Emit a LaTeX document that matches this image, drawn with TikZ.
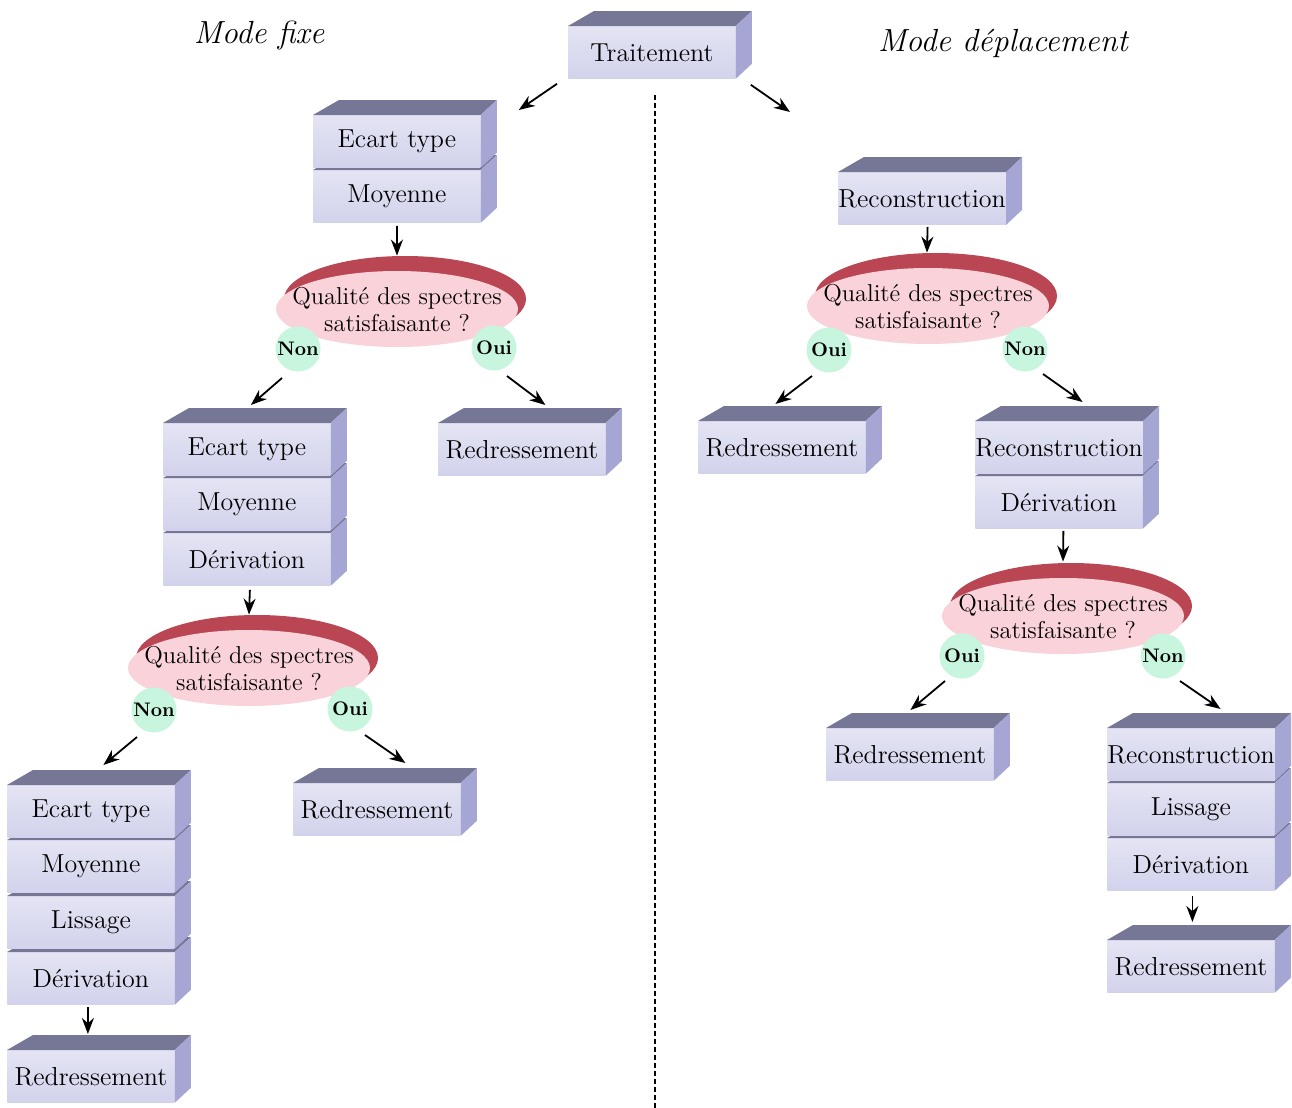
\documentclass[tikz,border=0pt]{standalone}
\usepackage{fontspec}
\usetikzlibrary{shapes.geometric,arrows.meta,calc}
\definecolor{frontc}{RGB}{228,228,244}
\definecolor{frontd}{RGB}{210,210,236}
\definecolor{topc}{RGB}{118,118,150}
\definecolor{sidec}{RGB}{166,166,212}
\definecolor{pinkc}{RGB}{250,210,218}
\definecolor{shadowc}{RGB}{185,70,82}
\definecolor{greenc}{RGB}{200,245,222}
\newcommand{\layer}[4]{%
  \node[frontbox] (#1) at (#2,#3) {#4};
  \fill[topface] (#1.north west) -- ++(13pt,7.5pt) -- ([shift={(8pt,7.5pt)}]#1.north east) -- (#1.north east) -- cycle;
  \fill[sideface] (#1.north east) -- ++(8pt,7.5pt) -- ([shift={(8pt,7.5pt)}]#1.south east) -- (#1.south east) -- cycle;
}
\newcommand{\decision}[3]{%
  \coordinate (#1c) at (#2,#3);
  \fill[shadowface] ([shift={(8,-10)}]#1c) ellipse [x radius=60.5pt, y radius=21.5pt];
  \node[decisionnode] (#1) at (#1c) {\qtext};
}
\newcommand{\qtext}{\raisebox{-5pt}[0pt][0pt]{\makebox[0pt]{\begin{tabular}{@{}c@{}}Qualité des spectres\\ satisfaisante ?\end{tabular}}}}
\begin{document}
\begin{tikzpicture}[x=0.5pt,y=-0.5pt,
  frontbox/.style={anchor=north west, minimum width=83.5pt, minimum height=26pt, inner sep=0pt,
    top color=frontc, bottom color=frontd, font=\fontsize{13}{15}\selectfont\addfontfeatures{FakeBold=0.5}},
  topface/.style={fill=topc},
  sideface/.style={fill=sidec},
  shadowface/.style={fill=shadowc},
  decisionnode/.style={ellipse, minimum width=121pt, minimum height=38pt, inner sep=0pt, fill=pinkc,
    font=\fontsize{12.2}{13.5}\selectfont\addfontfeatures{FakeBold=0.5}},
  answer/.style={circle, fill=greenc, minimum size=22.5pt, inner sep=0pt, font=\bfseries\fontsize{9.8}{11}\selectfont},
  arr/.style={-{Stealth[length=8pt,width=6pt]}, line width=0.9pt},
  title/.style={font=\itshape\fontsize{16}{18}\selectfont},
  sep/.style={dash pattern=on 2.5pt off 1.5pt, line width=1pt}]
\useasboundingbox (0,0) rectangle (1292,1108);
\fill[white] (0,0) rectangle (1292,1108);

% titles
\node[title] (tfix) at (259,35) {\addfontfeatures{LetterSpace=10}Mode fixe};
\node[title] (tdep) at (1003,43) {\addfontfeatures{LetterSpace=1}Mode déplacement};

% separator
\coordinate (sepTop) at (655,95);
\coordinate (sepBot) at (655,1108);
\draw[sep] (sepTop) -- (sepBot);

% root
\layer{T}{568}{26}{Traitement}

% ---------- left: mode fixe ----------
\layer{L1b}{313}{170}{Moyenne}
\layer{L1a}{313}{115}{Ecart type}
\layer{L1R}{438}{423}{Redressement}
\layer{L2c}{163}{533}{Dérivation}
\layer{L2b}{163}{478}{Moyenne}
\layer{L2a}{163}{423}{Ecart type}
\layer{L2R}{293}{783}{Redressement}
\layer{L3d}{7}{952}{Dérivation}
\layer{L3c}{7}{896}{Lissage}
\layer{L3b}{7}{840}{Moyenne}
\layer{L3a}{7}{785}{Ecart type}
\layer{L3R}{7}{1050}{Redressement}

% ---------- right: mode deplacement ----------
\layer{R1}{838}{172}{Reconstruction}
\layer{R1R}{698}{421}{Redressement}
\layer{R2b}{975}{476}{Dérivation}
\layer{R2a}{975}{421}{Reconstruction}
\layer{R2R}{826}{728}{Redressement}
\layer{R3c}{1107}{838}{Dérivation}
\layer{R3b}{1107}{783}{Lissage}
\layer{R3a}{1107}{728}{Reconstruction}
\layer{R3R}{1107}{940}{Redressement}

% decisions
\decision{E1}{397}{309}
\decision{E2}{249}{668}
\decision{E3}{928}{306}
\decision{E4}{1063}{616}

% answers
\node[answer] (E1n) at (298,349) {Non};
\node[answer] (E1y) at (494,348) {Oui};
\node[answer] (E2n) at (154,710) {Non};
\node[answer] (E2y) at (350,709) {Oui};
\node[answer] (E3y) at (829,350) {Oui};
\node[answer] (E3n) at (1025,349) {Non};
\node[answer] (E4y) at (962,656) {Oui};
\node[answer] (E4n) at (1163,656) {Non};

% arrows
\draw[arr] ([shift={(-11,5)}]T.south west) -- ([shift={(38,-5)}]L1a.north east);
\draw[arr] ([shift={(15,6)}]T.south east) -- ([shift={(-48,-60)}]R1.north west);
\draw[arr] ([shift={(0,3)}]L1b.south) -- ([shift={(0,-15)}]E1.north);
\draw[arr] ([shift={(-16,29)}]E1n.center) -- ([shift={(4,-18)}]L2a.north);
\draw[arr] ([shift={(13,28)}]E1y.center) -- ([shift={(23.5,-18)}]L1R.north);
\draw[arr] ([shift={(3,4)}]L2c.south) -- ([shift={(0,-15)}]E2.north);
\draw[arr] ([shift={(-17,27)}]E2n.center) -- ([shift={(12.5,-20)}]L3a.north);
\draw[arr] ([shift={(15,26)}]E2y.center) -- ([shift={(28.5,-20)}]L2R.north);
\draw[arr] ([shift={(-3,2)}]L3d.south) -- ([shift={(-3,-16)}]L3R.north);

\draw[arr] ([shift={(5.5,2)}]R1.south) -- ([shift={(-1,-15)}]E3.north);
\draw[arr] ([shift={(-17,26)}]E3y.center) -- ([shift={(-6.5,-17)}]R1R.north);
\draw[arr] ([shift={(18,25)}]E3n.center) -- ([shift={(23.5,-19)}]R2a.north);
\draw[arr] ([shift={(4.5,2)}]R2b.south) -- ([shift={(0,-16)}]E4.north);
\draw[arr] ([shift={(-17,25)}]E4y.center) -- ([shift={(0.5,-18)}]R2R.north);
\draw[arr] ([shift={(17,25)}]E4n.center) -- ([shift={(29.5,-19)}]R3a.north);
\draw[arr] ([shift={(1.5,5)}]R3c.south) -- ([shift={(1.5,-18)}]R3R.north);
\end{tikzpicture}
\end{document}
